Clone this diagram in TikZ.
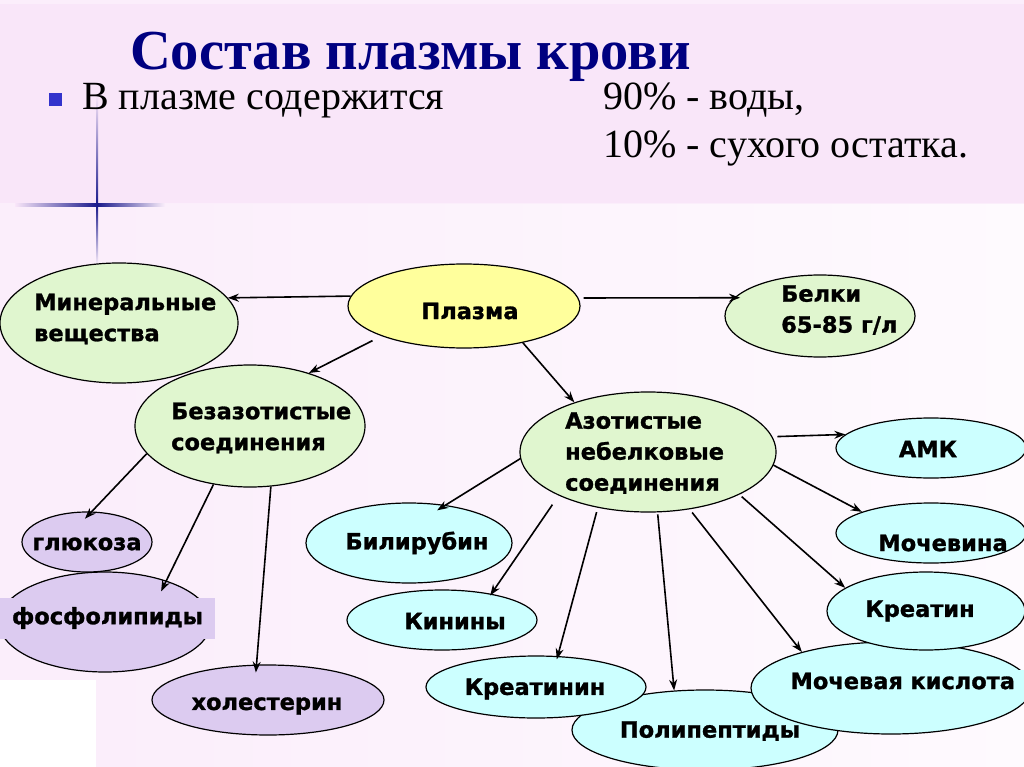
\documentclass[tikz,border=0pt]{standalone}
\usepackage{fontspec}
\setmainfont{Liberation Serif}
\newfontfamily\nodefont[FakeBold=1.2]{DejaVu Sans Bold}
\usetikzlibrary{shapes.geometric,arrows.meta}
\definecolor{bgtop}{HTML}{F9E6F9}
\definecolor{bgmid}{HTML}{FBEEFB}
\definecolor{bgright}{HTML}{FEFAFE}
\definecolor{navytitle}{HTML}{000080}
\definecolor{bulletblue}{HTML}{3333CC}
\definecolor{sparkle}{HTML}{1A1A8C}
\definecolor{ngreen}{HTML}{E0F6CF}
\definecolor{nyellow}{HTML}{FFFF9C}
\definecolor{ncyan}{HTML}{CCFFFF}
\definecolor{nlav}{HTML}{DCCBF0}
\begin{document}
\begin{tikzpicture}[x=1pt,y=-1pt,
  ell/.style={ellipse, draw=black, line width=1.2pt, inner sep=0pt},
  grn/.style={ell, fill=ngreen},
  yel/.style={ell, fill=nyellow},
  cyn/.style={ell, fill=ncyan},
  lav/.style={ell, fill=nlav},
  txt/.style={font=\nodefont\fontsize{22.5}{31}\selectfont, inner sep=0pt, align=left},
  arr/.style={-{Stealth[length=11pt,width=8pt]}, line width=1.6pt},
  hdr/.style={font=\fontsize{40}{48}\selectfont, inner sep=0pt, anchor=base west}
]
\useasboundingbox (0,0) rectangle (1024,767);
% background
\fill[bgmid] (0,0) rectangle (1024,767);
\shade[left color=bgmid, right color=bgright] (97,205) rectangle (1024,767);
\fill[bgtop] (0,4) rectangle (1024,203);
\fill[white] (0,680) rectangle (96,767);
% sparkle
\shade[top color=bgtop, bottom color=sparkle] (96,95) rectangle (98.2,205);
\shade[top color=sparkle, bottom color=bgmid] (96,205) rectangle (98.2,265);
\shade[left color=bgtop, right color=sparkle] (15,204) rectangle (97,206.2);
\shade[left color=sparkle, right color=bgmid] (97,204) rectangle (165,206.2);
% header
\node[font=\bfseries\fontsize{56.5}{60}\selectfont, text=navytitle, inner sep=0pt, anchor=base west] (title) at (130,70) {Состав плазмы крови};
\node[fill=bulletblue, minimum size=13pt, inner sep=0pt] (bullet) at (55,100) {};
\node[hdr] (inplasma) at (82,110) {В плазме содержится};
\node[hdr] (water) at (603,110) {90\% - воды,};
\node[hdr] (dry) at (603,158) {10\% - сухого остатка.};
% ellipses
\node[grn, minimum width=238pt, minimum height=120pt] (min) at (119,323) {};
\node[yel, minimum width=232pt, minimum height=84pt] (pl) at (464,306) {};
\node[grn, minimum width=190pt, minimum height=82pt] (bel) at (820,316) {};
\node[grn, minimum width=230pt, minimum height=122pt] (bez) at (250,426) {};
\node[grn, minimum width=256pt, minimum height=120pt] (az) at (648,452) {};
\node[cyn, minimum width=190pt, minimum height=60pt] (amk) at (931,448) {};
\node[cyn, minimum width=190pt, minimum height=60pt] (moch) at (931,533) {};
\node[cyn, minimum width=266pt, minimum height=80pt] (poly) at (705,730) {};
\node[cyn, minimum width=220pt, minimum height=62pt] (krn) at (536,687) {};
\node[cyn, minimum width=280pt, minimum height=92pt] (mk) at (891,688) {};
\node[cyn, minimum width=198pt, minimum height=78pt] (kr) at (926,611) {};
\node[cyn, minimum width=190pt, minimum height=60pt] (kin) at (442,620) {};
\node[cyn, minimum width=206pt, minimum height=80pt] (bil) at (409,543) {};
\node[lav, minimum width=212pt, minimum height=100pt] (phos) at (105,622) {};
\node[lav, minimum width=130pt, minimum height=60pt] (glu) at (87,542) {};
\node[lav, minimum width=232pt, minimum height=70pt] (hol) at (268,700) {};
% texts
\node[txt, anchor=west] (tmin) at (34,319) {Минеральные\\вещества};
\node[txt] (tpl) at (470,311) {Плазма};
\node[txt, anchor=west] (tbel) at (781,310) {Белки\\65-85 г/л};
\node[txt, anchor=west] (tbez) at (171,428) {Безазотистые\\соединения};
\node[txt, anchor=west] (taz) at (565,453) {Азотистые\\небелковые\\соединения};
\node[txt] (tamk) at (928,449) {АМК};
\node[txt] (tmoch) at (943,543) {Мочевина};
\node[txt] (tkr) at (920,611) {Креатин};
\node[txt, fill=ncyan, inner sep=3pt, text width=233pt] (tmk) at (907,681) {Мочевая кислота};
\node[txt] (tpoly) at (710,731) {Полипептиды};
\node[txt] (tkrn) at (535,689) {Креатинин};
\node[txt] (tkin) at (455,621) {Кинины};
\node[txt] (tbil) at (417,543) {Билирубин};
\node[txt] (tglu) at (87,544) {глюкоза};
\node[txt, fill=nlav, minimum width=215pt, minimum height=41pt] (tphos) at (107.5,618) {фосфолипиды};
\node[txt] (thol) at (267,706) {холестерин};
% arrows
\draw[arr] (pl.175.6) -- (min.13.4);
\draw[arr, shorten <=5pt, shorten >=-6pt] (pl.4.3) -- (bel.168.3);
\draw[arr, shorten <=10pt] (pl.200.9) -- (bez.42.4);
\draw[arr] (pl.-32) -- (az.146.1);
\draw[arr, shorten >=-10pt] (bez.195.2) -- (glu.81.8);
\draw[arr, shorten >=-12pt] (bez.238) -- (phos.34.2);
\draw[arr, shorten >=-8pt] (bez.289) -- (hol.108);
\draw[arr, shorten >=-10pt] (az.183.6) -- (bil.46.2);
\draw[arr, shorten <=11pt, shorten >=-2pt] (az.206.7) -- (kin.28.7);
\draw[arr, shorten <=4.5pt, shorten >=-3.5pt] (az.228) -- (krn.55.5);
\draw[arr, shorten <=2pt] (az.279) -- (poly.128.3);
\draw[arr, shorten <=4pt] (az.306.3) -- (mk.158.6);
\draw[arr, shorten <=3pt] (az.335.9) -- (kr.164);
\draw[arr] (az.354.8) -- (moch.163.6);
\draw[arr, shorten <=5pt] (az.7.5) -- (amk.171.3);
\end{tikzpicture}
\end{document}
